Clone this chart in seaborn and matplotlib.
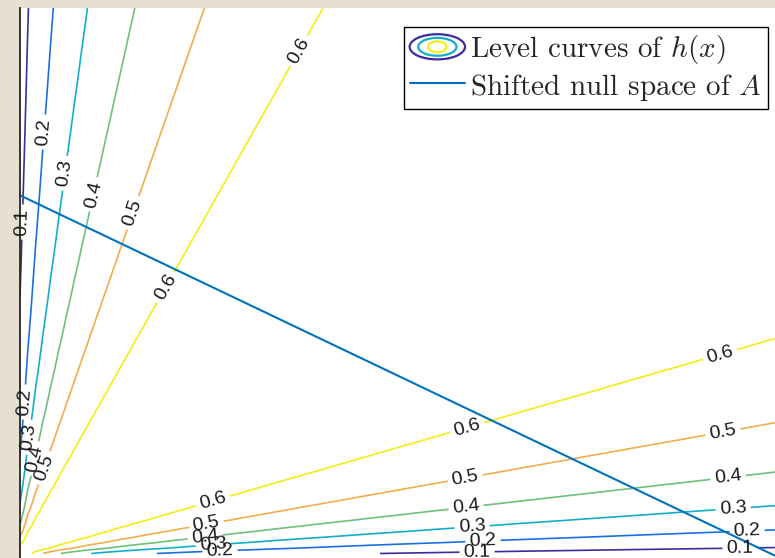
import numpy as np
import matplotlib
matplotlib.use("Agg")
import matplotlib.pyplot as plt
import seaborn as sns
from matplotlib.legend_handler import HandlerBase
from matplotlib.patches import Ellipse
from matplotlib.lines import Line2D

# contour levels of h(x) and the colour each one was drawn in
levels = [0.1, 0.2, 0.3, 0.4, 0.5, 0.6]
level_colors = ["#3d2c9c", "#1b6fe0", "#13afca", "#6fc07c", "#f0ae4c", "#f4ee16"]

# shifted null space of A (end points)
null_x = [0.01, 1.0]
null_y = [0.66, 0.0]

legend_labels = [r"Level curves of $h(x)$", r"Shifted null space of $A$"]

# h(x): entropy of the normalised vector x / sum(x), grid 0.01 ... 1
x1 = np.linspace(0.01, 1.0, 100)
x2 = np.linspace(0.01, 1.0, 100)
X1, X2 = np.meshgrid(x1, x2)
P = X1 / (X1 + X2)
H = -(P * np.log(P) + (1 - P) * np.log(1 - P))

# where the contour labels sit, in picture pixels (x from left, y from top)
label_px = [
    (22, 222), (43, 132), (63, 173), (92, 194), (133, 213), (165, 287), (298, 50),
    (23, 402), (27, 437), (32, 458), (42, 467),
    (213, 500), (206, 523), (205, 535), (213, 542), (220, 550),
    (467, 427), (465, 477), (466, 507), (472, 526), (483, 540), (477, 552),
    (720, 355), (723, 432), (728, 477), (733, 507), (747, 530), (740, 547),
]


class RingsHandler(HandlerBase):
    # legend icon: three nested ellipses like MATLAB's contour legend
    def create_artists(self, legend, orig_handle, xdescent, ydescent,
                       width, height, fontsize, trans):
        cx = width / 2 - xdescent
        cy = height / 2 - ydescent
        out = []
        for sw, sh, col in [(1.0, 1.0, level_colors[0]), (0.69, 0.71, level_colors[2]),
                            (0.33, 0.43, level_colors[5])]:
            e = Ellipse((cx, cy), width * sw, height * sh, fill=False,
                        edgecolor=col, linewidth=1.6, transform=trans)
            out.append(e)
        return out


sns.set_theme(style="white")
plt.rcParams["font.family"] = ["Liberation Sans", "DejaVu Sans"]
plt.rcParams["mathtext.fontset"] = "cm"

W, Hpx = 775, 558
fig = plt.figure(figsize=(W / 100, Hpx / 100), dpi=100)
fig.patch.set_facecolor("#e6dfd2")

# axes run a little past the right and bottom edges of the picture
ax = fig.add_axes([20 / W, (Hpx - 559) / Hpx, 762 / W, 551 / Hpx])
ax.set_facecolor("white")

cs = ax.contour(X1, X2, H, levels=levels, colors=level_colors, linewidths=1.2)
sns.lineplot(x=null_x, y=null_y, color="#0072bd", linewidth=1.5, ax=ax)

ax.set_xlim(0.01, 1)
ax.set_ylim(0, 1)

for s in ["top", "right", "bottom"]:
    ax.spines[s].set_visible(False)
ax.spines["left"].set_color("#262626")
ax.spines["left"].set_linewidth(1.3)
ax.set_xticks([])
ax.set_yticks([])

fig.canvas.draw()
inv = ax.transData.inverted()
label_pos = [tuple(inv.transform((px, Hpx - py))) for px, py in label_px]
labels = ax.clabel(cs, manual=label_pos, inline=True, inline_spacing=4,
                   fmt="%.1f", fontsize=14, colors="k")
for t in labels:
    t.set_clip_on(False)
    t.set_zorder(4)

rings = Line2D([], [])
null_handle = Line2D([], [], color="#0072bd", linewidth=1.5)
leg = ax.legend([rings, null_handle], legend_labels,
                handler_map={rings: RingsHandler()},
                loc="upper right", bbox_to_anchor=(768 / W, 1 - 27 / Hpx),
                bbox_transform=fig.transFigure, borderaxespad=0,
                fancybox=False, framealpha=1, edgecolor="black",
                prop={"family": "cmr10", "size": 21},
                handlelength=1.9, handleheight=0.95, handletextpad=0.18,
                labelspacing=0.2, borderpad=0.2)
leg.get_frame().set_linewidth(1.0)
leg.set_zorder(5)

fig.savefig("out.png", dpi=100, facecolor=fig.get_facecolor())
